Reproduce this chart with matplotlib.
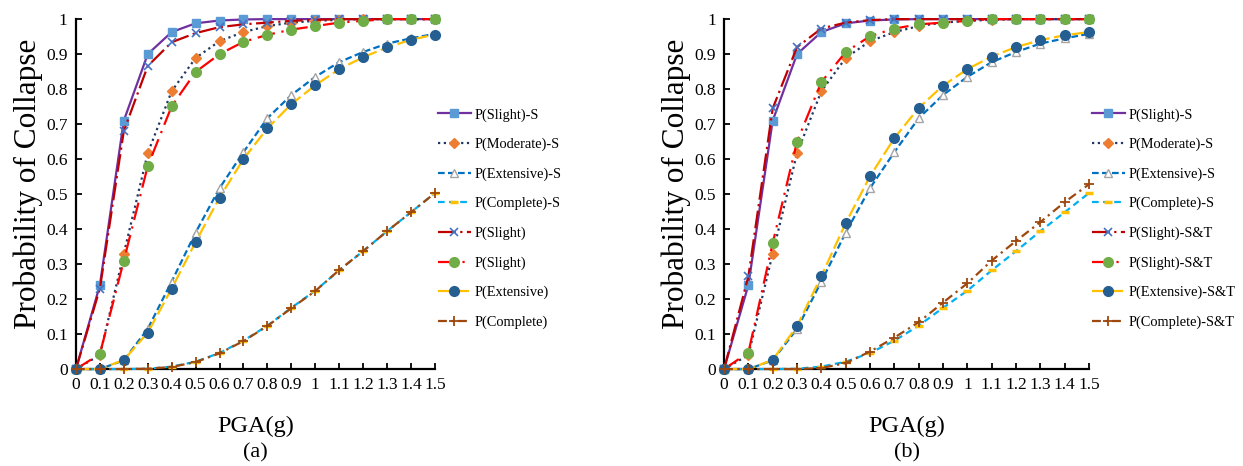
import matplotlib
matplotlib.use('Agg')
from matplotlib import pyplot as plt
from matplotlib.ticker import FuncFormatter
import numpy as np

plt.rcParams['font.family'] = ['Liberation Serif', 'DejaVu Serif']

pga = [0, 0.1, 0.2, 0.3, 0.4, 0.5, 0.6, 0.7, 0.8, 0.9, 1.0, 1.1, 1.2, 1.3, 1.4, 1.5]

# soil-only curves (same in both panels)
slight_s = [0, 0.24, 0.71, 0.90, 0.963, 0.988, 0.996, 0.999, 1, 1, 1, 1, 1, 1, 1, 1]
moderate_s = [0, 0.04, 0.33, 0.617, 0.794, 0.889, 0.937, 0.963, 0.98, 0.99, 0.995, 0.998, 1, 1, 1, 1]
extensive_s = [0, 0, 0.025, 0.115, 0.25, 0.39, 0.517, 0.62, 0.717, 0.783, 0.835, 0.877, 0.906, 0.93, 0.945, 0.958]
complete_s = [0, 0, 0, 0.001, 0.007, 0.021, 0.046, 0.081, 0.124, 0.175, 0.224, 0.282, 0.337, 0.394, 0.448, 0.503]

# panel (a)
slight_a = [0, 0.23, 0.68, 0.866, 0.934, 0.96, 0.977, 0.985, 0.99, 0.995, 0.998, 1, 1, 1, 1, 1]
slight2_a = [0, 0.043, 0.31, 0.58, 0.751, 0.849, 0.90, 0.935, 0.955, 0.97, 0.98, 0.99, 0.995, 1, 1, 1]
extensive_a = [0, 0, 0.026, 0.104, 0.23, 0.363, 0.49, 0.60, 0.688, 0.757, 0.811, 0.857, 0.891, 0.919, 0.941, 0.956]
complete_a = [0, 0, 0, 0.001, 0.006, 0.02, 0.045, 0.08, 0.123, 0.174, 0.223, 0.283, 0.337, 0.394, 0.448, 0.503]

# panel (b)
slight_b = [0, 0.265, 0.745, 0.92, 0.973, 0.99, 0.997, 1, 1, 1, 1, 1, 1, 1, 1, 1]
slight2_b = [0, 0.047, 0.36, 0.65, 0.82, 0.906, 0.951, 0.973, 0.985, 0.99, 0.995, 1, 1, 1, 1, 1]
extensive_b = [0, 0, 0.026, 0.123, 0.266, 0.417, 0.551, 0.66, 0.746, 0.81, 0.857, 0.893, 0.92, 0.94, 0.954, 0.963]
complete_b = [0, 0, 0, 0, 0.003, 0.017, 0.05, 0.09, 0.134, 0.19, 0.245, 0.31, 0.366, 0.42, 0.477, 0.528]

labels_a = ['P(Slight)-S', 'P(Moderate)-S', 'P(Extensive)-S', 'P(Complete)-S',
            'P(Slight)', 'P(Slight)', 'P(Extensive)', 'P(Complete)']
labels_b = ['P(Slight)-S', 'P(Moderate)-S', 'P(Extensive)-S', 'P(Complete)-S',
            'P(Slight)-S&T', 'P(Slight)-S&T', 'P(Extensive)-S&T', 'P(Complete)-S&T']

styles = [
    dict(color='#7030A0', ls='-', marker='s', mfc='#5B9BD5', mec='#5B9BD5', ms=6),
    dict(color='#1F3864', ls=(0, (1, 1.6)), marker='D', mfc='#ED7D31', mec='#ED7D31', ms=5),
    dict(color='#0070C0', ls=(0, (3, 1.5)), marker='^', mfc='white', mec='#A5A5A5', ms=6),
    dict(color='#00B0F0', ls=(0, (3, 2)), marker='_', mfc='#FFC000', mec='#FFC000', ms=6, mew=2.5),
    dict(color='#C00000', ls=(0, (8, 2, 1, 2)), marker='x', mfc='#4472C4', mec='#4472C4', ms=6, mew=1.2),
    dict(color='#FF0000', ls=(0, (8, 3, 1, 3)), marker='o', mfc='#70AD47', mec='#70AD47', ms=7),
    dict(color='#FFC000', ls=(0, (6, 2)), marker='o', mfc='#255E91', mec='#255E91', ms=7),
    dict(color='#9E480E', ls=(0, (4, 2, 1, 2)), marker='+', mfc='#9E480E', mec='#9E480E', ms=7, mew=1.3),
]

fig = plt.figure(figsize=(12.43, 4.66), dpi=100)

panels = [
    ([0.0611, 0.208, 0.2888, 0.751], [slight_s, moderate_s, extensive_s, complete_s,
                                       slight_a, slight2_a, extensive_a, complete_a], labels_a, '(a)'),
    ([0.5825, 0.208, 0.2936, 0.751], [slight_s, moderate_s, extensive_s, complete_s,
                                       slight_b, slight2_b, extensive_b, complete_b], labels_b, '(b)'),
]

for rect, series, labels, tag in panels:
    ax = fig.add_axes(rect)
    for y, lab, st in zip(series, labels, styles):
        ax.plot(pga, y, label=lab, lw=1.6, clip_on=False, zorder=3, **st)
    ax.set_xlim(0, 1.5)
    ax.set_ylim(0, 1)
    ax.set_xticks(pga)
    ax.set_yticks(np.arange(0, 11) / 10)
    fmt = FuncFormatter(lambda v, p: '%g' % round(v, 1))
    ax.xaxis.set_major_formatter(fmt)
    ax.yaxis.set_major_formatter(fmt)
    for s in ('top', 'right'):
        ax.spines[s].set_visible(False)
    for s in ('left', 'bottom'):
        ax.spines[s].set_linewidth(1.6)
    ax.tick_params(direction='in', length=4, width=1.3, labelsize=12.5, pad=6)
    ax.set_xlabel('PGA(g)', fontsize=17.5, labelpad=16)
    ax.set_ylabel('Probability of Collapse', fontsize=22.5, labelpad=2, y=0.53)
    ax.text(0.5, -0.24, tag, transform=ax.transAxes, ha='center', va='center', fontsize=16)
    ax.legend(loc='center left', bbox_to_anchor=(1.0, 0.43), frameon=False, fontsize=10.4,
              labelspacing=1.12, handlelength=2.3, handletextpad=0.25, borderaxespad=0.0,
              borderpad=0.2, numpoints=1)

fig.savefig('out.png', dpi=100)
